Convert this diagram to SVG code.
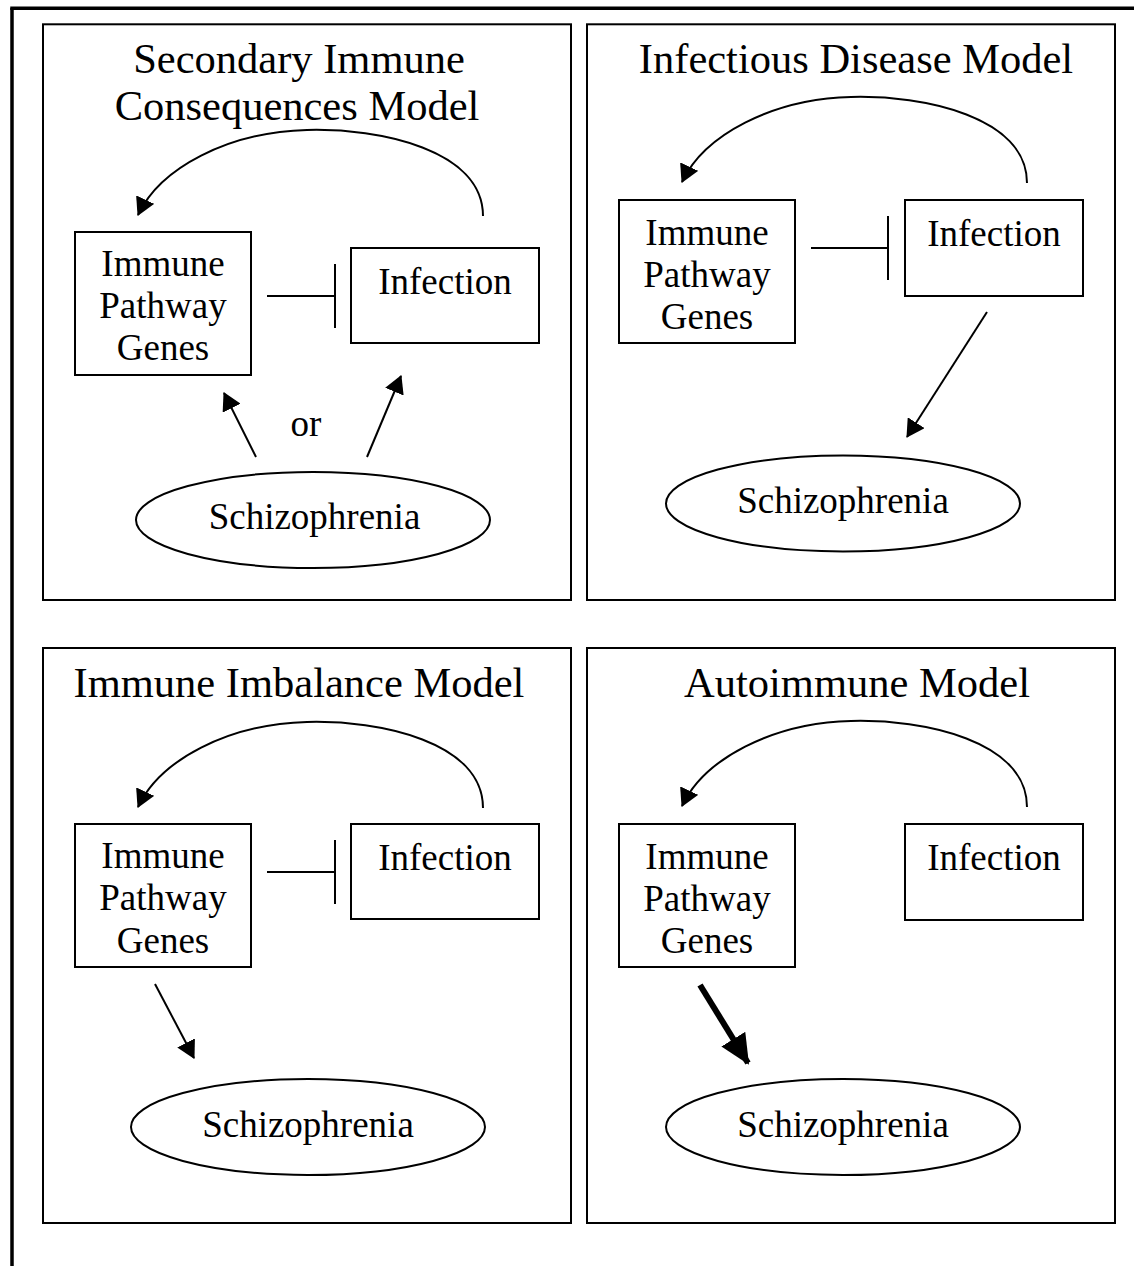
<svg xmlns="http://www.w3.org/2000/svg" width="1134" height="1266" viewBox="0 0 1134 1266">
<style>
.panel{fill:none;stroke:#000;stroke-width:2}
.box{fill:#fff;stroke:#000;stroke-width:2}
.ell{fill:#fff;stroke:#000;stroke-width:2}
.ln{fill:none;stroke:#000;stroke-width:2}
.thick{fill:none;stroke:#000;stroke-width:6}
.title{font-family:"Liberation Serif","Times New Roman",serif;font-size:42.5px;text-anchor:middle;fill:#000}
.lbl{font-family:"Liberation Serif","Times New Roman",serif;font-size:37px;text-anchor:middle;fill:#000}
</style>
<defs>
<marker id="ah" markerUnits="userSpaceOnUse" markerWidth="18" markerHeight="20" viewBox="0 0 18 20" refX="17" refY="10" orient="auto">
<path d="M0,0 L18,10 L0,20 z" fill="#000"/>
</marker>
<marker id="ahBig" markerUnits="userSpaceOnUse" markerWidth="30" markerHeight="28" viewBox="0 0 30 28" refX="28" refY="14" orient="auto">
<path d="M0,0 L30,14 L0,28 z" fill="#000"/>
</marker>
</defs>
<rect width="1134" height="1266" fill="#fff"/>
<g id="frame">
<line x1="12" y1="8" x2="12" y2="1266" stroke="#000" stroke-width="3.5"/>
<line x1="10.25" y1="8.3" x2="1134" y2="8.3" stroke="#000" stroke-width="3.5"/>
</g>
<g id="panels">
<rect class="panel" x="43" y="24.3" width="528" height="575.7"/>
<rect class="panel" x="587" y="24.3" width="528" height="575.7"/>
<rect class="panel" x="43" y="648" width="528" height="575"/>
<rect class="panel" x="587" y="648" width="528" height="575"/>
</g>
<g id="titles">
<text class="title" x="299" y="72.5">Secondary Immune</text>
<text class="title" x="297" y="120">Consequences Model</text>
<text class="title" x="856" y="73">Infectious Disease Model</text>
<text class="title" x="299" y="697">Immune Imbalance Model</text>
<text class="title" x="857" y="697">Autoimmune Model</text>
</g>
<g id="connectors">
<!-- panel 1 -->
<path class="ln" d="M483,216 C483,150 380,128 307,130 C228,132 160,168 138,215" marker-end="url(#ah)"/>
<line class="ln" x1="267" y1="296" x2="335" y2="296"/>
<line class="ln" x1="335" y1="264" x2="335" y2="328"/>
<line class="ln" x1="256" y1="457" x2="224" y2="393" marker-end="url(#ah)"/>
<line class="ln" x1="367" y1="457" x2="401" y2="376" marker-end="url(#ah)"/>
<!-- panel 2 -->
<path class="ln" d="M1027,183 C1027,117 924,95 851,97 C772,99 704,135 682,182" marker-end="url(#ah)"/>
<line class="ln" x1="811" y1="248" x2="888" y2="248"/>
<line class="ln" x1="888" y1="216" x2="888" y2="280"/>
<line class="ln" x1="987" y1="312" x2="907" y2="437" marker-end="url(#ah)"/>
<!-- panel 3 -->
<path class="ln" d="M483,808 C483,742 380,720 307,722 C228,724 160,760 138,807" marker-end="url(#ah)"/>
<line class="ln" x1="267" y1="872" x2="335" y2="872"/>
<line class="ln" x1="335" y1="840" x2="335" y2="904"/>
<line class="ln" x1="155" y1="984" x2="194" y2="1058" marker-end="url(#ah)"/>
<!-- panel 4 -->
<path class="ln" d="M1027,807 C1027,741 924,719 851,721 C772,723 704,759 682,806" marker-end="url(#ah)"/>
<line class="thick" x1="700" y1="985" x2="748" y2="1063" marker-end="url(#ahBig)"/>
</g>
<g id="p1-immune">
<rect class="box" x="75" y="232" width="176" height="143"/>
<text class="lbl" x="163" y="276">Immune</text>
<text class="lbl" x="163" y="318">Pathway</text>
<text class="lbl" x="163" y="360">Genes</text>
</g>
<g id="p1-infection">
<rect class="box" x="351" y="248" width="188" height="95"/>
<text class="lbl" x="445" y="294">Infection</text>
</g>
<g id="p1-schizophrenia">
<ellipse class="ell" cx="313" cy="520" rx="177" ry="48"/>
<text class="lbl" x="314.5" y="529">Schizophrenia</text>
</g>
<g id="p1-or">
<text class="lbl" x="306" y="436">or</text>
</g>
<g id="p2-immune">
<rect class="box" x="619" y="200" width="176" height="143"/>
<text class="lbl" x="707" y="245">Immune</text>
<text class="lbl" x="707" y="287">Pathway</text>
<text class="lbl" x="707" y="329">Genes</text>
</g>
<g id="p2-infection">
<rect class="box" x="905" y="200" width="178" height="96"/>
<text class="lbl" x="994" y="246">Infection</text>
</g>
<g id="p2-schizophrenia">
<ellipse class="ell" cx="843" cy="503.5" rx="177" ry="48"/>
<text class="lbl" x="843" y="513">Schizophrenia</text>
</g>
<g id="p3-immune">
<rect class="box" x="75" y="824" width="176" height="143"/>
<text class="lbl" x="163" y="868">Immune</text>
<text class="lbl" x="163" y="910">Pathway</text>
<text class="lbl" x="163" y="953">Genes</text>
</g>
<g id="p3-infection">
<rect class="box" x="351" y="824" width="188" height="95"/>
<text class="lbl" x="445" y="870">Infection</text>
</g>
<g id="p3-schizophrenia">
<ellipse class="ell" cx="308" cy="1127" rx="177" ry="48"/>
<text class="lbl" x="308" y="1137">Schizophrenia</text>
</g>
<g id="p4-immune">
<rect class="box" x="619" y="824" width="176" height="143"/>
<text class="lbl" x="707" y="869">Immune</text>
<text class="lbl" x="707" y="911">Pathway</text>
<text class="lbl" x="707" y="953">Genes</text>
</g>
<g id="p4-infection">
<rect class="box" x="905" y="824" width="178" height="96"/>
<text class="lbl" x="994" y="870">Infection</text>
</g>
<g id="p4-schizophrenia">
<ellipse class="ell" cx="843" cy="1127" rx="177" ry="48"/>
<text class="lbl" x="843" y="1137">Schizophrenia</text>
</g>
</svg>
